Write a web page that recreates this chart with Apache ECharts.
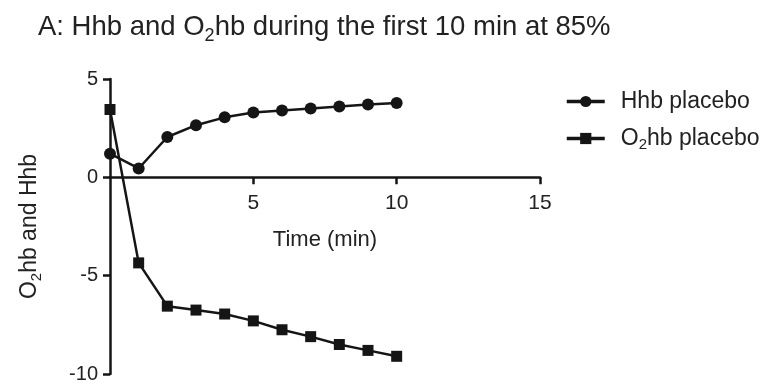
<!DOCTYPE html>
<html>
<head>
<meta charset="utf-8">
<script src="https://cdn.jsdelivr.net/npm/echarts@6/dist/echarts.min.js"></script>
<style>
  html, body { margin: 0; padding: 0; background: #fff; }
  #main { width: 766px; height: 383px; }
</style>
</head>
<body>
<div id="main"></div>
<script>
// time points (min)
var times = [0, 1, 2, 3, 4, 5, 6, 7, 8, 9, 10];
// Hhb placebo values
var hhbPlacebo = [1.2, 0.45, 2.05, 2.65, 3.05, 3.3, 3.4, 3.5, 3.6, 3.7, 3.78];
// O2hb placebo values
var o2hbPlacebo = [3.45, -4.35, -6.55, -6.75, -6.95, -7.3, -7.75, -8.1, -8.5, -8.8, -9.1];
var xTicks = [0, 5, 10, 15];
var yTicks = [-10, -5, 0, 5];

var ink = "#151515";
var txt = "#222";
var fontFam = "Liberation Sans, Arial, sans-serif";

var gridTop = 79, gridBottom = 9, chartH = 383;
var gridH = chartH - gridTop - gridBottom;
var yMin = yTicks[0], yMax = yTicks[yTicks.length - 1];
// x axis crosses the y axis at 0
var xAxisOffset = -gridH * (0 - yMin) / (yMax - yMin);

function pairs(xs, ys) {
    return xs.map(function (x, i) { return [x, ys[i]]; });
}

var myChart = echarts.init(document.getElementById("main"));
var option = {
    backgroundColor: "#fff",
    animation: false,
    title: {
        text: "{t|A: Hhb and O}{s|2}{t|hb during the first 10 min at 85%}",
        left: 33,
        top: 5,
        textStyle: {
            rich: {
                t: { fontSize: 27.5, color: txt, fontFamily: fontFam, fontWeight: "normal" },
                s: { fontSize: 18, color: txt, fontFamily: fontFam, fontWeight: "normal", padding: [17, 0, 0, 0] }
            }
        }
    },
    legend: {
        orient: "vertical",
        left: 560,
        top: 85,
        itemWidth: 38,
        itemHeight: 14,
        itemGap: 14,
        lineStyle: { width: 3.5 },
        textStyle: {
            fontSize: 23,
            color: txt,
            fontFamily: fontFam,
            padding: [0, 0, 0, 11],
            rich: {
                t: { fontSize: 23, color: txt, fontFamily: fontFam },
                s: { fontSize: 15, color: txt, fontFamily: fontFam, padding: [13, 0, 0, 0] }
            }
        },
        formatter: function (name) {
            if (name === "O2hb placebo") return "{t|O}{s|2}{t|hb placebo}";
            return "{t|" + name + "}";
        },
        data: ["Hhb placebo", "O2hb placebo"]
    },
    grid: {
        left: 110,
        right: 226,
        top: gridTop,
        bottom: gridBottom,
        containLabel: false,
        outerBoundsMode: "none"
    },
    xAxis: {
        type: "value",
        min: xTicks[0],
        max: xTicks[xTicks.length - 1],
        interval: 5,
        offset: xAxisOffset,
        name: "Time (min)",
        nameLocation: "middle",
        nameGap: 52,
        nameTextStyle: { fontSize: 22, color: txt, fontFamily: fontFam },
        axisLine: { onZero: false, lineStyle: { color: ink, width: 2.5 } },
        axisTick: { show: true, length: 7, lineStyle: { color: ink, width: 2.5 } },
        axisLabel: {
            showMinLabel: false,
            fontSize: 21,
            color: txt,
            fontFamily: fontFam,
            margin: 15
        },
        splitLine: { show: false }
    },
    yAxis: {
        type: "value",
        min: yMin,
        max: yMax,
        interval: 5,
        name: "{t|O}{s|2}{t|hb and Hhb}",
        nameLocation: "middle",
        nameGap: 66,
        nameTextStyle: {
            rich: {
                t: { fontSize: 23, color: txt, fontFamily: fontFam },
                s: { fontSize: 15, color: txt, fontFamily: fontFam, padding: [13, 0, 0, 0] }
            }
        },
        axisLine: { onZero: false, lineStyle: { color: ink, width: 2.5 } },
        axisTick: { show: true, length: 7, lineStyle: { color: ink, width: 2.5 } },
        axisLabel: {
            fontSize: 20,
            color: txt,
            fontFamily: fontFam,
            margin: 12,
            formatter: function (v) { return v < 0 ? "-" + Math.abs(v) : String(v); }
        },
        splitLine: { show: false }
    },
    series: [
        {
            name: "Hhb placebo",
            type: "line",
            data: pairs(times, hhbPlacebo),
            symbol: "circle",
            symbolSize: 12,
            itemStyle: { color: ink },
            lineStyle: { color: ink, width: 2.5 },
            z: 3
        },
        {
            name: "O2hb placebo",
            type: "line",
            data: pairs(times, o2hbPlacebo),
            symbol: "rect",
            symbolSize: 11,
            itemStyle: { color: ink },
            lineStyle: { color: ink, width: 2.5 },
            z: 3
        }
    ]
};
myChart.setOption(option);
</script>
</body>
</html>
